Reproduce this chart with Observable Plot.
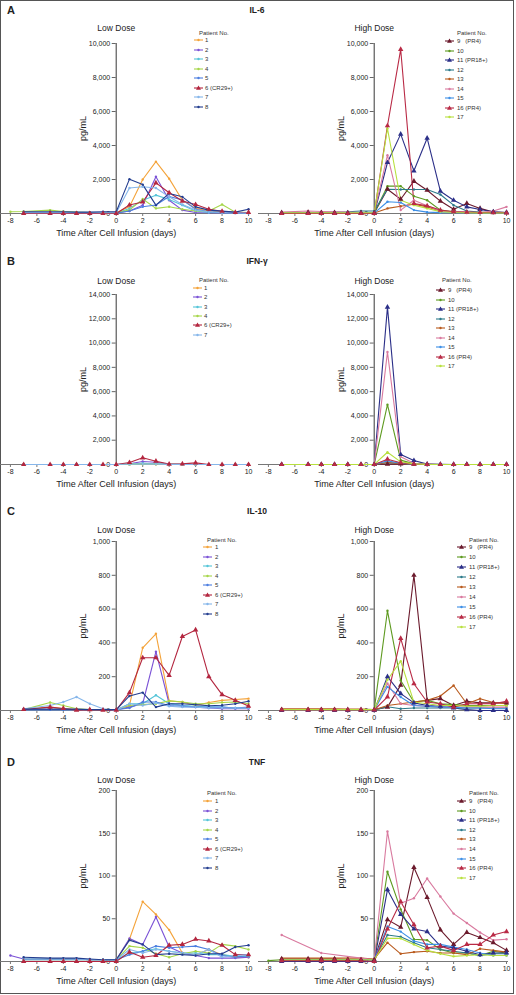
<!DOCTYPE html>
<html><head><meta charset="utf-8">
<script src="https://cdn.jsdelivr.net/npm/d3@7"></script>
<script src="https://cdn.jsdelivr.net/npm/@observablehq/plot@0.6"></script>
<style>
body{margin:0;background:#fff;font-family:"Liberation Sans",Arial,Helvetica,sans-serif;color:#222;}
#fig{position:relative;width:516px;height:995px;overflow:hidden;background:#fff;}
#frame{position:absolute;left:0;top:0;width:514px;height:994px;border:1px solid #555;box-sizing:border-box;pointer-events:none;}
.abs{position:absolute;white-space:pre;line-height:1;}
.letter{font-weight:bold;font-size:11px;}
.ctitle{font-weight:bold;font-size:8.5px;}
.lg{font-size:6px;color:#333;}
</style></head>
<body><div id="fig"><div id="frame"></div></div>
<script>
// ---------- data ----------
const days = [-8,-7,-5,-4,-3,-2,-1,0,1,2,3,4,5,6,7,8,9,10];

const lowIds = ["1","2","3","4","5","6","7","8"];
const ifnLowIds = ["1","2","3","4","6","7"];
const highIds = ["9","10","11","12","13","14","15","16","17"];
const triangleIds = ["6","9","11","16"];

const patientLabels = {"1":"1","2":"2","3":"3","4":"4","5":"5","6":"6 (CR29+)","7":"7","8":"8",
  "9":"9   (PR4)","10":"10","11":"11 (PR18+)","12":"12","13":"13","14":"14","15":"15","16":"16 (PR4)","17":"17"};
const patientColors = {"1":"#f4a33a","2":"#7b52d6","3":"#55c5d8","4":"#a6d64a","5":"#4d7fe0","6":"#b3263f","7":"#86b6ea","8":"#233d8f",
  "9":"#6b1a2c","10":"#5e9a20","11":"#2b2f88","12":"#2c7a8a","13":"#b95a1d","14":"#d97a9f","15":"#3d8fe6","16":"#b92a45","17":"#b8e03e"};

// IL-6 (pg/mL)
const il6Low = [
  [null,60,50,40,40,30,30,40,400,2000,3050,2050,780,300,150,80,50,40],
  [null,30,30,30,30,20,20,30,150,490,2160,780,200,60,40,30,20,20],
  [null,20,20,20,20,20,20,20,300,780,1080,820,490,150,60,40,30,30],
  [100,120,200,120,80,60,50,50,200,850,300,400,250,150,150,530,80,50],
  [null,20,20,20,20,20,20,20,150,400,500,1000,800,250,100,60,40,30],
  [null,0,0,0,0,0,0,0,500,680,1800,1220,730,530,250,130,60,60],
  [null,40,40,40,40,40,40,40,1500,1570,1500,980,530,200,100,60,40,30],
  [null,100,100,100,80,80,100,100,2020,1700,490,1180,980,390,200,140,80,250]
];
const il6High = [
  [null,50,60,50,50,40,40,30,1430,840,1900,1370,730,250,590,300,80,50],
  [null,30,30,30,30,30,30,30,1610,1610,1020,780,200,100,60,40,30,30],
  [null,0,0,0,0,0,0,0,3000,4670,2510,4430,1310,780,390,240,100,60],
  [null,60,60,60,80,100,150,150,1430,1410,1410,1410,1120,490,150,80,50,40],
  [null,30,30,30,30,30,30,30,300,430,550,390,150,80,50,40,30,30],
  [null,80,150,120,100,80,60,50,3430,200,780,450,150,100,80,60,150,390],
  [null,20,20,20,20,20,20,20,690,650,200,80,50,40,30,30,20,20],
  [null,0,0,0,0,0,0,0,5160,9650,590,450,200,100,80,60,50,40],
  [null,40,40,40,40,40,40,40,5000,780,490,300,100,60,40,30,30,30]
];
// IFN-gamma
const ifngLow = [
  [null,5,5,5,5,5,5,5,10,50,20,10,5,5,5,5,5,5],
  [null,5,5,5,5,5,5,5,60,250,180,20,10,5,5,5,5,5],
  [null,5,5,5,5,5,5,5,30,100,60,20,10,5,5,5,5,5],
  [null,5,5,5,5,5,5,5,10,30,20,10,5,5,5,5,5,5],
  [null,0,0,0,0,0,0,0,160,550,270,30,50,130,0,0,0,0],
  [null,5,5,5,5,5,5,5,20,40,30,10,5,5,5,5,5,5]
];
const ifngHigh = [
  [null,0,0,0,0,0,0,0,30,50,20,0,0,0,0,0,0,0],
  [null,5,5,5,5,5,5,5,4930,360,50,10,5,5,5,5,5,5],
  [null,0,0,0,0,0,0,0,12960,820,330,30,10,5,5,5,5,5],
  [null,5,5,5,5,5,5,5,150,100,30,10,5,5,5,5,5,5],
  [null,5,5,5,5,5,5,5,160,80,20,10,5,5,5,5,5,5],
  [null,5,5,5,5,5,5,5,9260,630,100,20,5,5,5,5,5,5],
  [null,5,5,5,5,5,5,5,300,100,20,10,5,5,5,5,5,5],
  [null,0,0,0,0,0,0,0,440,150,30,10,0,0,0,0,0,0],
  [null,5,5,5,5,5,5,5,1010,220,50,10,5,5,5,5,5,5]
];
// IL-10
const il10Low = [
  [null,8,20,10,5,5,5,5,30,371,454,57,50,30,47,60,65,70],
  [null,5,5,5,5,5,5,5,20,40,348,40,30,20,15,10,10,10],
  [null,5,5,5,5,5,5,5,40,40,90,40,30,25,20,20,15,15],
  [null,5,47,30,10,5,5,5,30,35,40,57,50,40,40,47,50,40],
  [null,5,5,5,5,5,5,5,15,50,50,30,25,20,20,20,15,20],
  [null,6,20,12,2,5,2,2,106,312,312,208,438,477,200,94,60,26],
  [null,10,30,50,80,40,10,2,40,30,45,25,20,20,15,15,15,15],
  [null,8,8,8,8,5,5,5,86,106,20,40,40,35,28,31,40,55]
];
const il10High = [
  [null,5,5,5,5,5,5,5,20,150,800,60,70,30,55,45,45,45],
  [null,5,5,5,5,5,5,5,590,178,50,60,40,35,30,30,30,30],
  [null,0,0,0,0,0,0,0,200,100,45,30,25,15,5,0,0,0],
  [null,3,3,3,3,3,3,3,22,10,15,15,15,15,15,15,15,15],
  [null,10,10,10,10,8,8,5,30,40,50,60,86,148,40,70,47,40],
  [null,3,3,3,3,3,3,3,160,40,30,25,20,20,20,20,20,20],
  [null,3,3,3,3,3,3,3,140,80,30,25,20,20,15,15,10,10],
  [null,3,3,3,3,3,3,3,80,427,158,50,40,20,40,40,40,55],
  [null,5,5,5,5,5,5,5,182,292,50,40,30,30,25,25,30,30]
];
// TNF
const tnfLow = [
  [null,3,3,3,3,2,2,2,26,70,55,37,10,8,14,8,5,5],
  [7,3,3,3,3,2,2,2,27,20,52,17,10,7,4,4,4,5],
  [null,3,3,3,3,2,2,2,10,12,15,12,10,10,8,8,6,6],
  [null,2,2,2,2,2,2,2,18,16,9,5,9,12,10,20,18,14],
  [null,2,2,2,2,2,2,2,8,12,18,16,17,18,14,7,5,7],
  [null,0,0,0,0,0,0,0,11,5,7,19,20,26,24,19,8,8],
  [null,3,3,3,3,2,2,2,14,10,14,12,10,8,14,5,7,8],
  [null,5,4,4,4,3,2,2,25,20,8,9,8,7,9,9,17,19]
];
const tnfHigh = [
  [null,3,3,3,3,2,2,2,49,40,110,75,37,20,34,28,22,13],
  [1,2,2,2,2,2,2,2,105,61,26,25,14,10,10,7,12,10],
  [null,0,0,0,0,0,0,0,84,55,38,35,18,16,12,8,10,10],
  [null,2,2,2,2,2,2,2,31,29,22,16,14,12,10,7,9,9],
  [null,4,4,4,4,4,4,3,22,9,11,12,10,10,8,15,13,11],
  [null,31,null,10,null,null,4,2,152,68,74,97,76,56,45,34,25,26],
  [null,2,2,2,2,2,2,2,41,35,24,20,20,17,14,10,7,7],
  [null,1,1,1,1,1,1,0,38,70,43,16,18,13,20,20,31,35],
  [null,2,2,2,2,2,2,2,27,27,20,13,9,6,7,8,7,7]
];

const il6Ticks = [0,2000,4000,6000,8000,10000];
const ifngTicks = [0,2000,4000,6000,8000,10000,12000,14000];
const il10Ticks = [0,200,400,600,800,1000];
const tnfTicks = [0,50,100,150,200];
const xTicks = [-8,-6,-4,-2,0,2,4,6,8,10];

// ---------- layout ----------
const rows = [
  {letter:"A", title:"IL-6", headY:10, top:43, h:170, ticks:il6Ticks, subDy:19,
   low:{ids:lowIds, values:il6Low, lg:{hx:199,hy:33,y0:40,step:9.5,sx:194,tx:205}},
   high:{ids:highIds, values:il6High, lg:{hx:457,hy:33,y0:41,step:9.5,sx:445,tx:457}}},
  {letter:"B", title:"IFN-γ", headY:261, top:294, h:170, ticks:ifngTicks, subDy:17,
   low:{ids:ifnLowIds, values:ifngLow, lg:{hx:199,hy:280,y0:288,step:9.3,sx:193,tx:204}},
   high:{ids:highIds, values:ifngHigh, lg:{hx:442,hy:280,y0:290,step:9.5,sx:436,tx:448}}},
  {letter:"C", title:"IL-10", headY:511, top:541, h:169, ticks:il10Ticks, subDy:15,
   low:{ids:lowIds, values:il10Low, lg:{hx:207,hy:540,y0:547,step:9.5,sx:203,tx:215}},
   high:{ids:highIds, values:il10High, lg:{hx:469,hy:540,y0:547,step:10,sx:457,tx:469}}},
  {letter:"D", title:"TNF", headY:762, top:790, h:171, ticks:tnfTicks, subDy:14,
   low:{ids:lowIds, values:tnfLow, lg:{hx:207,hy:793,y0:801,step:9.5,sx:203,tx:215}},
   high:{ids:highIds, values:tnfHigh, lg:{hx:469,hy:793,y0:801,step:9.6,sx:457,tx:469}}}
];

const fig = document.getElementById("fig");
const fmt = d3.format(",");
const FONT = '"Liberation Sans", Arial, Helvetica, sans-serif';

function flatten(ids, values) {
  const out = [];
  ids.forEach((id, k) => {
    values[k].forEach((v, j) => {
      if (v != null) out.push({pid: id, day: days[j], value: v, tri: triangleIds.includes(id)});
    });
  });
  return out;
}

function makePanel(row, side, left) {
  const cfg = row[side];
  const data = flatten(cfg.ids, cfg.values);
  const yMax = row.ticks[row.ticks.length - 1];
  const M = 30;
  const chart = Plot.plot({
    width: 258, height: row.h + 2 * M,
    marginTop: M, marginBottom: M, marginLeft: 0, marginRight: 8,
    style: {fontFamily: FONT, fontSize: "7px", background: "transparent", color: "#222", overflow: "visible"},
    x: {domain: [-8.75, 10.15]},
    y: {domain: [0, yMax], axis: null},
    color: {type: "ordinal", domain: cfg.ids, range: cfg.ids.map(id => patientColors[id])},
    marks: [
      Plot.ruleY([0], {stroke: "#777", strokeWidth: 1.1}),
      Plot.axisX({ticks: xTicks, tickSize: 3, tickPadding: 2, fontSize: 7, label: null, tickFormat: d => d, stroke: "#777"}),
      Plot.ruleX([0], {y1: 0, y2: yMax, stroke: "#666", strokeWidth: 1.3}),
      Plot.ruleY(row.ticks, {y: d => d, x1: 0, x2: 0, insetLeft: -4, stroke: "#666"}),
      Plot.text(row.ticks, {x: 0, y: d => d, text: d => fmt(d), textAnchor: "end", dx: -6, fontSize: 7, fill: "#222"}),
      Plot.text([side === "low" ? "Low Dose" : "High Dose"], {x: 0, text: d => d, frameAnchor: "top", dy: -row.subDy, fontSize: 8.5, fill: "#222"}),
      Plot.text(["pg/mL"], {x: 0, text: d => d, frameAnchor: "middle", dx: -33, rotate: -90, fontSize: 9, fill: "#222"}),
      Plot.text(["Time After Cell Infusion (days)"], {x: 0, text: d => d, frameAnchor: "bottom", dy: 22, fontSize: 9, fill: "#222"}),
      Plot.line(data, {x: "day", y: "value", z: "pid", stroke: "pid", strokeWidth: 1.1}),
      Plot.dot(data.filter(d => !d.tri), {x: "day", y: "value", fill: "pid", r: 1.2, symbol: "circle"}),
      Plot.dot(data.filter(d => d.tri), {x: "day", y: "value", fill: "pid", r: 2, symbol: "triangle"})
    ]
  });
  const wrap = document.createElement("div");
  wrap.className = "abs";
  wrap.style.left = left + "px";
  wrap.style.top = (row.top - M) + "px";
  wrap.appendChild(chart);
  fig.appendChild(wrap);
}

function addText(cls, text, x, y, anchor) {
  const el = document.createElement("div");
  el.className = "abs " + cls;
  el.textContent = text;
  fig.appendChild(el);
  const r = el.getBoundingClientRect();
  el.style.left = (anchor === "middle" ? x - r.width / 2 : x) + "px";
  el.style.top = (y - r.height / 2) + "px";
  return el;
}

function addLegend(cfg) {
  const lg = cfg.lg;
  addText("lg", "Patient No.", lg.hx, lg.hy, "start");
  cfg.ids.forEach((id, k) => {
    const y = lg.y0 + k * lg.step;
    const col = patientColors[id];
    const tri = triangleIds.includes(id);
    const sw = document.createElementNS("http://www.w3.org/2000/svg", "svg");
    sw.setAttribute("width", 10); sw.setAttribute("height", 6);
    sw.style.position = "absolute";
    sw.style.left = lg.sx + "px"; sw.style.top = (y - 3) + "px";
    sw.innerHTML = `<line x1="0" y1="3" x2="9" y2="3" stroke="${col}" stroke-width="1.1"/>` +
      (tri ? `<polygon points="4.5,0.6 7,4.8 2,4.8" fill="${col}"/>` : `<circle cx="4.5" cy="3" r="1.2" fill="${col}"/>`);
    fig.appendChild(sw);
    addText("lg", patientLabels[id], lg.tx, y, "start");
  });
}

rows.forEach(row => {
  makePanel(row, "low", 0);
  makePanel(row, "high", 258);
  addText("letter", row.letter, 7, row.headY, "start");
  addText("ctitle", row.title, 257, row.headY, "middle");
  addLegend(row.low);
  addLegend(row.high);
});
</script></body></html>
